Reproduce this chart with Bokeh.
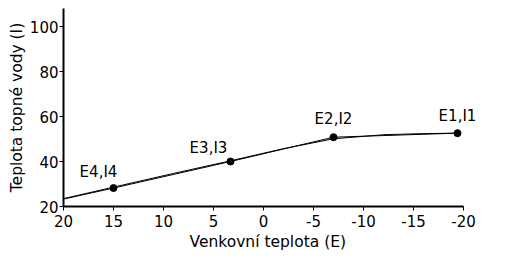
from bokeh.plotting import figure
from bokeh.models import Range1d, FixedTicker, Label, Title
from bokeh.embed import file_html
from bokeh.resources import INLINE

# data
point_labels = ["E1,I1", "E2,I2", "E3,I3", "E4,I4"]
point_e = [-19.4, -7.0, 3.3, 15.0]
point_i = [52.6, 50.8, 40.0, 28.2]

# straight polyline through the points (starting at the left edge)
line_e = [20.0, 15.0, 3.3, -7.0, -19.4]
line_i = [23.3, 28.2, 40.0, 50.8, 52.6]

# smooth curve
curve_e = [20.0, 15.0, 9.0, 3.3, -2.0, -7.0, -12.0, -16.0, -19.4]
curve_i = [23.5, 28.6, 34.7, 40.3, 45.7, 50.1, 51.9, 52.4, 52.6]

x_ticks = [20, 15, 10, 5, 0, -5, -10, -15, -20]
y_ticks = [20, 40, 60, 80, 100]

# label offsets (style)
lab_dx = [0, 0, -22, -15]
lab_dy = [8, 9, 5, 7]

FONT = "DejaVu Sans"

p = figure(width=505, height=278, output_backend="svg", toolbar_location=None,
           x_range=Range1d(20, -24), y_range=Range1d(20, 108),
           min_border_left=63, min_border_right=2, min_border_top=8, min_border_bottom=72)
p.outline_line_color = None
p.xgrid.visible = False
p.ygrid.visible = False
p.background_fill_color = "white"
p.border_fill_color = "white"

for ax in (p.xaxis[0], p.yaxis[0]):
    ax.axis_line_width = 2
    ax.axis_line_color = "black"
    ax.major_tick_line_color = "black"
    ax.major_tick_in = 0
    ax.major_tick_out = 4
    ax.minor_tick_line_color = None
    ax.major_label_text_font = FONT
    ax.major_label_text_font_size = "15px"
    ax.major_label_text_color = "black"
    ax.axis_label_text_font = FONT
    ax.axis_label_text_font_size = "15.5px"
    ax.axis_label_text_font_style = "normal"
    ax.axis_label_text_color = "black"

p.xaxis[0].bounds = (min(x_ticks), max(x_ticks))
p.xaxis[0].ticker = FixedTicker(ticks=x_ticks)
p.yaxis[0].ticker = FixedTicker(ticks=y_ticks)
p.xaxis[0].major_label_overrides = {t: str(t) for t in x_ticks}
p.xaxis[0].major_label_standoff = 4
p.yaxis[0].major_label_standoff = 1
p.yaxis[0].axis_label = "Teplota topné vody (I)"
p.yaxis[0].axis_label_standoff = 1

p.add_layout(Title(text="Venkovní teplota (E)", align="left", offset=126,
                   text_font=FONT, text_font_size="15.5px", text_font_style="normal",
                   text_color="black", standoff=2), "below")

p.line(line_e, line_i, line_color="black", line_width=1)
p.line(curve_e, curve_i, line_color="black", line_width=1)

p.scatter(point_e, point_i, size=7, fill_color="black", line_color="black")
for t, e, i, dx, dy in zip(point_labels, point_e, point_i, lab_dx, lab_dy):
    p.add_layout(Label(x=e, y=i, text=t, x_offset=dx, y_offset=dy,
                       text_align="center", text_baseline="bottom",
                       text_font=FONT, text_font_size="15px", text_color="black"))

open("out.html", "w").write(file_html(p, INLINE))
